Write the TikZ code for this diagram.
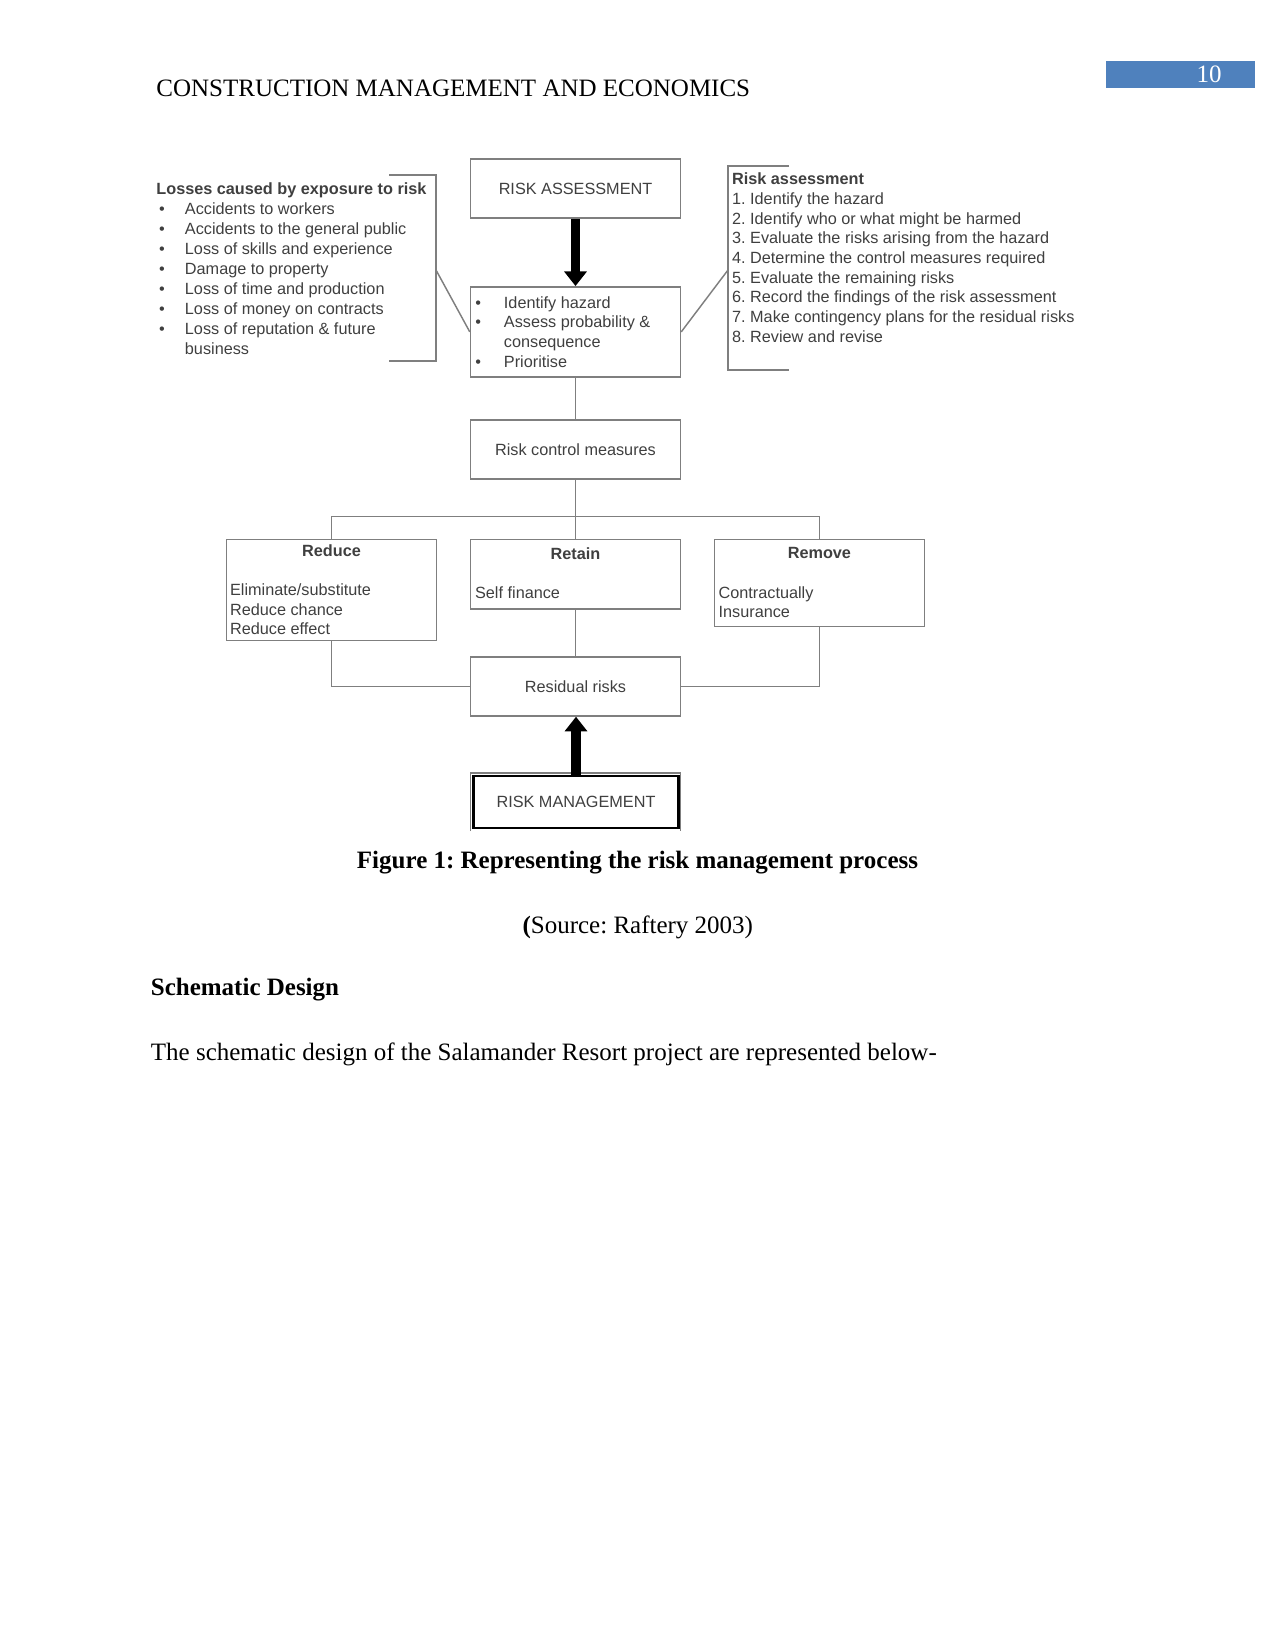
\documentclass[tikz,border=0pt]{standalone}
\usepackage{fontspec}
\setmainfont{Liberation Serif}
\newfontfamily\diagsans{Liberation Sans}
\usepackage{tikz}
\usetikzlibrary{arrows.meta}
\definecolor{RMLine}{HTML}{7F7F7F}
\definecolor{RMText}{HTML}{3F3F3F}
\definecolor{PageBlue}{HTML}{4F81BD}
\frenchspacing
\newcommand{\diagtext}{\diagsans\fontsize{7.8}{9.45}\selectfont}
\newcommand{\rmbullet}[1][0pt]{\makebox[13.7pt][l]{\hspace*{#1}\textbullet}}
\tikzset{
  pagetext/.style={font=\fontsize{12}{14.4}\selectfont,inner sep=0pt},
  boxtext/.style={font=\diagtext,text=RMText,inner sep=0pt},
  linepitch/.style={font=\diagsans\fontsize{7.8}{#1}\selectfont},
  stagebox/.style={draw=RMLine,line width=.7pt,inner sep=0pt,minimum width=100.8pt,font=\diagtext,text=RMText},
  flow/.style={draw=RMLine,line width=.7pt},
  bigarrow/.style={line width=4.6pt,-{Triangle[width=10.5pt,length=7pt]}}
}

\begin{document}
\begin{tikzpicture}[x=0.48pt,y=-0.48pt]
\path[use as bounding box] (0,0) rectangle (1275,1650);
\fill[PageBlue] (1106,61) rectangle (1255,88.5);
\node[pagetext,text=white,anchor=base east] (pgno) at (1222,83) {10};
\node[pagetext,anchor=base west] (hdr) at (156,96.7) {CONSTRUCTION MANAGEMENT AND ECONOMICS};
% process boxes
\node[stagebox,minimum height=28.3pt] (ra) at (575.5,188.7) {RISK ASSESSMENT};
\node[stagebox,minimum height=43.3pt] (id) at (575.5,331.9) {};
\node[stagebox,minimum height=28.3pt] (rc) at (575.5,449.5) {Risk control measures};
\node[stagebox,minimum height=48.7pt] (red) at (331.5,590) {};
\node[stagebox,minimum height=33.5pt] (ret) at (575.5,574.2) {};
\node[stagebox,minimum height=42pt] (rem) at (819.4,583) {};
\node[stagebox,minimum height=28.3pt] (res) at (575.5,686.5) {Residual risks};
\node[stagebox,draw=black,line width=1pt,minimum width=98.4pt,minimum height=25pt] (rm) at (576,802) {RISK MANAGEMENT};
\draw[flow] (470.7,831) -- (470.7,773) -- (680.7,773) -- (680.7,831);
\node[boxtext,anchor=base west] (idtxt) at (475,308.2) {\begin{tabular}[t]{@{}l@{}}\rmbullet Identify hazard\\ \rmbullet Assess probability \&\\ \hspace*{13.7pt}consequence\\ \rmbullet Prioritise\end{tabular}};
\node[boxtext,font=\diagtext\bfseries,anchor=base] (redhd) at (331.5,556.2) {Reduce};
\node[boxtext,anchor=base west] (redtxt) at (229.7,595.5) {\begin{tabular}[t]{@{}l@{}}Eliminate/substitute\\Reduce chance\\Reduce effect\end{tabular}};
\node[boxtext,font=\diagtext\bfseries,anchor=base] (rethd) at (575.5,559.5) {Retain};
\node[boxtext,anchor=base west] (rettxt) at (474.7,598.8) {Self finance};
\node[boxtext,font=\diagtext\bfseries,anchor=base] (remhd) at (819.4,558.2) {Remove};
\node[boxtext,linepitch=9.1pt,anchor=base west] (remtxt) at (718.2,598.2) {\begin{tabular}[t]{@{}l@{}}Contractually\\Insurance\end{tabular}};
% connectors
\coordinate (split) at (575.5,516.7);
\draw[flow] (id.south) -- (rc.north);
\draw[flow] (rc.south) -- (ret.north);
\draw[flow] (red.north) |- (split) -| (rem.north);
\draw[flow] (ret.south) -- (res.north);
\draw[flow] (red.south) |- (res.west);
\draw[flow] (rem.south) |- (res.east);
\draw[bigarrow] (ra.south) -- (id.north);
\draw[bigarrow] (rm.north) -- (rm.north |- res.south);
% side notes
\node[boxtext,linepitch=9.6pt,anchor=base west] (losses) at (156,195) {\begin{tabular}[t]{@{}l@{}}\textbf{Losses caused by exposure to risk}\\
\rmbullet[1.25pt]Accidents to workers\\
\rmbullet[1.25pt]Accidents to the general public\\
\rmbullet[1.25pt]Loss of skills and experience\\
\rmbullet[1.25pt]Damage to property\\
\rmbullet[1.25pt]Loss of time and production\\
\rmbullet[1.25pt]Loss of money on contracts\\
\rmbullet[1.25pt]Loss of reputation \& future\\
\hspace*{13.7pt}business\end{tabular}};
\draw[flow] (389,175) -| (436,361) -- (389,361);
\coordinate (lossjoin) at (436,270);
\draw[flow] (lossjoin) -- (id.west);
\node[boxtext,anchor=base west] (steps) at (731.7,184.8) {\begin{tabular}[t]{@{}l@{}}\textbf{Risk assessment}\\
1. Identify the hazard\\
2. Identify who or what might be harmed\\
3. Evaluate the risks arising from the hazard\\
4. Determine the control measures required\\
5. Evaluate the remaining risks\\
6. Record the findings of the risk assessment\\
7. Make contingency plans for the residual risks\\
8. Review and revise\end{tabular}};
\draw[flow] (789,166) -| (728,370) -- (789,370);
\coordinate (stepjoin) at (728,270);
\draw[flow] (id.east) -- (stepjoin);
% caption and body text
\node[pagetext,font=\fontsize{12}{14.4}\selectfont\bfseries,anchor=base] (cap) at (637.5,868.3) {Figure 1: Representing the risk management process};
\node[pagetext,anchor=base] (src) at (637.8,933.3) {\textbf{(}Source: Raftery 2003)};
\node[pagetext,font=\fontsize{12}{14.4}\selectfont\bfseries,anchor=base west] (sechd) at (150.5,995) {Schematic Design};
\node[pagetext,anchor=base west] (para) at (150.5,1060) {The schematic design of the Salamander Resort project are represented below-};
\end{tikzpicture}
\end{document}
